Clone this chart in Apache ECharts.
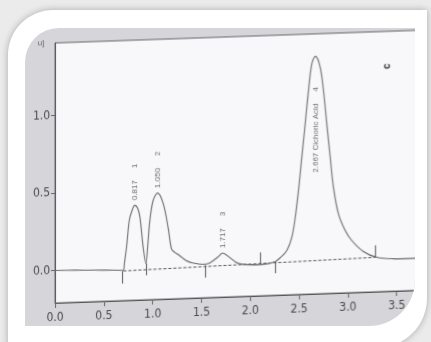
<!DOCTYPE html>
<html>
<head>
<meta charset="utf-8">
<script src="https://cdn.jsdelivr.net/npm/echarts@6/dist/echarts.min.js"></script>
<style>
  html, body { margin: 0; padding: 0; width: 431px; height: 342px; overflow: hidden; background: #ebebeb; }
  #frame { position: absolute; left: 8px; top: 10px; width: 419px; height: 338px; background: #fff;
           border-radius: 45px 0 50px 0; box-shadow: 0 0 7px rgba(0,0,0,0.28); }
  #scan { position: absolute; left: 25px; top: 28px; width: 390px; height: 298px; background: #d5d5da;
          border-radius: 34px 0 46px 0; overflow: hidden; }
  #chart { position: absolute; left: -25px; top: -28px; width: 460px; height: 342px;
           transform: skewY(-2deg); transform-origin: 54px 270px; }
</style>
</head>
<body>
<div id="frame"></div>
<div id="scan"><div id="chart"></div></div>
<script>
// Retention time (min) and detector response (AU) of the trace
const times = [0.00, 0.20, 0.40, 0.60, 0.699, 0.710, 0.732, 0.760, 0.783, 0.817, 0.846, 0.869, 0.902, 0.930,
  0.951, 0.971, 1.005, 1.050, 1.107, 1.158, 1.192, 1.221, 1.273, 1.340, 1.408, 1.515, 1.583, 1.668,
  1.717, 1.783, 1.850, 1.918, 2.088, 2.247, 2.308, 2.375, 2.426, 2.461, 2.494, 2.528, 2.563, 2.596,
  2.630, 2.667, 2.715, 2.749, 2.783, 2.818, 2.851, 2.902, 2.971, 3.038, 3.157, 3.293, 3.464, 3.650, 3.80];
const absorbance = [0.000, -0.003, -0.007, -0.012, -0.015, 0.030, 0.135, 0.306, 0.359, 0.402, 0.382, 0.325, 0.131, 0.023,
  0.154, 0.302, 0.430, 0.476, 0.408, 0.251, 0.114, 0.092, 0.069, 0.035, 0.017, 0.006, 0.013, 0.050,
  0.074, 0.047, 0.013, -0.003, -0.009, 0.005, 0.032, 0.077, 0.162, 0.290, 0.462, 0.676, 0.891, 1.104,
  1.276, 1.323, 1.252, 1.101, 0.886, 0.670, 0.475, 0.302, 0.193, 0.127, 0.053, 0.012, -0.001, -0.003, -0.003];

// Detected peaks: retention time, label anchor level, peak number and name
const peakTimes = [0.817, 1.050, 1.717, 2.667];
const peakLabelLevels = [0.402, 0.476, 0.074, 0.54];
const peakNumbers = ['1', '2', '3', '4'];
const peakNames = ['', '', '', 'Cichoric Acid'];

// Integration baseline (start and end) and the peak start/stop markers
const baselineTimes = [0.70, 3.28];
const baselineLevels = [-0.019, 0.012];
const markerTimes = [0.69, 0.933, 1.535, 2.10, 2.26, 3.28];
const markerFrom = [-0.02, 0.025, 0.0, -0.008, 0.005, 0.012];
const markerTo = [-0.10, -0.052, -0.08, 0.07, -0.068, 0.09];

// Axis tick labels
const xTicks = [0, 0.5, 1.0, 1.5, 2.0, 2.5, 3.0, 3.5];
const yTicks = [0, 0.5, 1.0];

const narrow = "'Liberation Sans Narrow', 'DejaVu Sans Condensed', 'Liberation Sans', sans-serif";
const sans = "'Liberation Sans', Arial, sans-serif";

const chart = echarts.init(document.getElementById('chart'), null, { renderer: 'canvas' });

const trace = times.map((t, i) => [t, absorbance[i]]);
const baseline = baselineTimes.map((t, i) => [t, baselineLevels[i]]);
const markers = markerTimes.map((t, i) => [{ coord: [t, markerFrom[i]] }, { coord: [t, markerTo[i]] }]);
const peakLabels = peakTimes.map((t, i) => ({
  value: [t, peakLabelLevels[i]],
  text: (peakNames[i] ? t.toFixed(3) + ' ' + peakNames[i] : t.toFixed(3)),
  num: peakNumbers[i]
}));

chart.setOption({
  animation: false,
  grid: { left: 54, top: 43, width: 372, height: 260, show: true,
          backgroundColor: '#f8f8fa', borderColor: '#666', borderWidth: 1 },
  xAxis: {
    type: 'value', min: 0, max: 3.8, interval: 0.5,
    axisLine: { show: true, onZero: false, lineStyle: { color: '#555', width: 1 } },
    axisTick: { show: true, length: 5, lineStyle: { color: '#666' }, customValues: xTicks },
    axisLabel: { color: '#4a4a4a', fontSize: 12, fontFamily: narrow, margin: 9,
                 customValues: xTicks, formatter: v => v.toFixed(1) },
    splitLine: { show: false }
  },
  yAxis: {
    type: 'value', min: -0.21, max: 1.467,
    name: 'Absorbance', nameLocation: 'middle', nameGap: 18,
    nameTextStyle: { fontFamily: sans, fontWeight: 'bold', fontSize: 14, color: '#333' },
    axisLine: { show: true, onZero: false, lineStyle: { color: '#555', width: 1 } },
    axisTick: { show: true, length: 4, lineStyle: { color: '#666' }, customValues: yTicks },
    axisLabel: { color: '#4a4a4a', fontSize: 12, fontFamily: narrow, margin: 5,
                 customValues: yTicks, formatter: v => v.toFixed(1) },
    splitLine: { show: false }
  },
  graphic: [
    { type: 'text', x: 387, y: 78, rotation: Math.PI / 2,
      style: { text: 'c', font: 'bold 10px ' + sans, fill: '#333', align: 'center', verticalAlign: 'middle' } },
    { type: 'text', x: 41, y: 43,
      style: { text: 'u]', font: '8px ' + sans, fill: '#666', align: 'center', verticalAlign: 'middle' } }
  ],
  series: [
    {
      type: 'line', data: trace, smooth: 0.35, symbol: 'none',
      lineStyle: { color: '#6a6a6a', width: 1.1 }, z: 3
    },
    {
      type: 'line', data: baseline, symbol: 'none',
      lineStyle: { color: '#555', width: 1, type: [3, 2] }, z: 2,
      markLine: {
        silent: true, symbol: 'none', label: { show: false },
        lineStyle: { color: '#555', width: 1, type: 'solid' },
        data: markers
      }
    },
    {
      type: 'scatter', data: peakLabels, symbolSize: 0, z: 4,
      label: {
        show: true, position: 'top', distance: 5, rotate: 90, align: 'left', verticalAlign: 'middle',
        formatter: p => '{t|' + p.data.text + '}{s|}{n|' + p.data.num + '}',
        rich: {
          t: { fontSize: 8, fontFamily: sans, color: '#4a4a4a' },
          s: { width: 12 },
          n: { fontSize: 8, fontFamily: sans, color: '#4a4a4a' }
        }
      }
    }
  ]
});
</script>
</body>
</html>
